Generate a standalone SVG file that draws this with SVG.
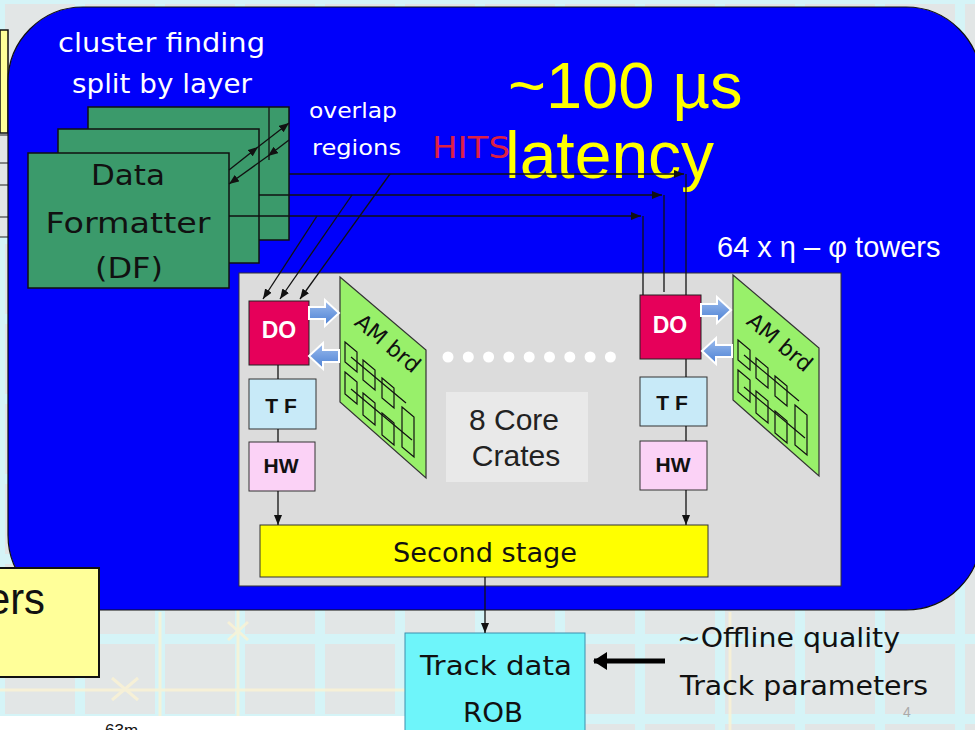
<svg xmlns="http://www.w3.org/2000/svg" xmlns:xlink="http://www.w3.org/1999/xlink" width="975" height="730" viewBox="0 0 975 730">
  <style>
    .comic { font-family: "DejaVu Sans", "Liberation Sans", sans-serif; }
    .sans { font-family: "Liberation Sans", Arial, sans-serif; }
    .card { fill: #3b9a6b; stroke: #111; stroke-width: 1.5; }
    .wire { fill: none; stroke: #111; stroke-width: 1.3; }
    .do { fill: #e6005a; stroke: #222; stroke-width: 1; }
    .tf { fill: #c8eaf8; stroke: #333; stroke-width: 1; }
    .hw { fill: #fbd2f6; stroke: #333; stroke-width: 1; }
    .lbl-do { font-family: "Liberation Sans", Arial, sans-serif; font-weight: bold; font-size: 23px; fill: #fff; text-anchor: middle; }
    .lbl-box { font-family: "Liberation Sans", Arial, sans-serif; font-weight: bold; font-size: 21px; fill: #111; text-anchor: middle; }
    .chip { fill: none; stroke: #111; stroke-width: 1.2; }
    .blk { fill: url(#arrowGrad); stroke: #fff; stroke-width: 2; }
  </style>
  <defs>
    <pattern id="tiles" x="0" y="0" width="80" height="80" patternUnits="userSpaceOnUse">
      <rect width="80" height="80" fill="#d5f4f7"/>
      <rect x="5" y="4" width="70" height="70" fill="#e2e6e6"/>
    </pattern>
    <linearGradient id="arrowGrad" x1="0" y1="0" x2="0" y2="1">
      <stop offset="0" stop-color="#9dbdee"/>
      <stop offset="1" stop-color="#4a7fd3"/>
    </linearGradient>
    <marker id="ah" viewBox="0 0 10 8" refX="10" refY="4" markerWidth="10" markerHeight="8" markerUnits="userSpaceOnUse" orient="auto">
      <path d="M0,0 L10,4 L0,8 Z" fill="#111"/>
    </marker>
    <marker id="ahBig" viewBox="0 0 14 18" refX="13" refY="9" markerWidth="14" markerHeight="18" markerUnits="userSpaceOnUse" orient="auto">
      <path d="M0,0 L14,9 L0,18 Z" fill="#000"/>
    </marker>
    <!-- block arrow pointing right, origin at the tail centre -->
    <path id="blockArrow" d="M0,-6 H16 V-13 L30,0 L16,13 V6 H0 Z"/>
    <!-- associative-memory board with its chips, origin at top-left corner -->
    <g id="amBoard">
      <path d="M0,0 L86,73 L86,201 L0,125 Z" fill="#98f06a" stroke="#333" stroke-width="1.2"/>
      <path class="chip" d="M5,65 l12,10 v20 l-12,-10 z"/>
      <path class="chip" d="M23,83 l12,10 v20 l-12,-10 z"/>
      <path class="chip" d="M42,101 l12,10 v20 l-12,-10 z"/>
      <path class="chip" d="M5,95 l12,10 v22 l-12,-10 z"/>
      <path class="chip" d="M23,116 l12,10 v22 l-12,-10 z"/>
      <path class="chip" d="M42,136 l12,10 v22 l-12,-10 z"/>
      <path class="chip" d="M62,130 l12,10 v40 l-12,-10 z"/>
      <path class="chip" d="M11,80 L66,126 M11,112 L72,163"/>
    </g>
  </defs>

  <!-- backdrop -->
  <rect width="975" height="730" fill="url(#tiles)"/>
  <g stroke="#fbf3d4" stroke-width="3" opacity="0.8">
    <line x1="238" y1="610" x2="238" y2="716"/>
    <line x1="160" y1="612" x2="160" y2="716"/>
    <line x1="0" y1="690" x2="405" y2="690"/>
    <line x1="730" y1="612" x2="730" y2="730"/>
    <line x1="228" y1="622" x2="248" y2="640"/>
    <line x1="248" y1="622" x2="228" y2="640"/>
    <line x1="112" y1="678" x2="138" y2="700"/>
    <line x1="138" y1="678" x2="112" y2="700"/>
  </g>
  <rect x="0" y="716" width="405" height="14" fill="#fff"/>
  <text class="sans" x="105" y="736" font-size="17" fill="#111">63m</text>
  <text class="sans" x="903" y="717" font-size="14" fill="#aaa">4</text>

  <!-- edge of the neighbouring table -->
  <g id="side-table">
    <rect x="0" y="30" width="8" height="103" fill="#ffff99" stroke="#111" stroke-width="1.5"/>
    <rect x="0" y="134" width="8" height="103" fill="#e3e6e6"/>
    <g stroke="#222" stroke-width="1">
      <line x1="0" y1="135" x2="8" y2="135"/>
      <line x1="0" y1="163" x2="8" y2="163"/>
      <line x1="0" y1="185" x2="8" y2="185"/>
      <line x1="0" y1="217" x2="8" y2="217"/>
      <line x1="0" y1="237" x2="8" y2="237"/>
    </g>
  </g>

  <!-- blue system area -->
  <g id="ftk-area">
    <rect x="8" y="7" width="973" height="603" rx="75" ry="75" fill="#0000fa" stroke="#111" stroke-width="1.2"/>
    <text class="comic" x="58" y="52" font-size="27" fill="#fff" textLength="207" lengthAdjust="spacingAndGlyphs">cluster finding</text>
    <text class="comic" x="72" y="93" font-size="27" fill="#fff" textLength="180" lengthAdjust="spacingAndGlyphs">split by layer</text>
    <text class="comic" x="309" y="118" font-size="22" fill="#fff" textLength="88" lengthAdjust="spacingAndGlyphs">overlap</text>
    <text class="comic" x="312" y="155" font-size="22" fill="#fff" textLength="89" lengthAdjust="spacingAndGlyphs">regions</text>
    <text class="comic" x="432" y="158" font-size="30" fill="#dc1f45" textLength="78" lengthAdjust="spacingAndGlyphs">HITS</text>
    <text class="sans" x="508" y="108" font-size="65" fill="#ffff00">~100 µs</text>
    <text class="sans" x="505" y="178" font-size="66" fill="#ffff00">latency</text>
    <text class="sans" x="717" y="257" font-size="29" fill="#fff">64 x η – φ towers</text>
  </g>

  <!-- data formatter stack -->
  <g id="data-formatter">
    <rect class="card" x="88" y="107" width="201" height="133"/>
    <rect class="card" x="58" y="129" width="201" height="134"/>
    <rect class="card" x="28" y="153" width="201" height="135"/>
    <text class="comic" x="128" y="185" font-size="29" fill="#111" text-anchor="middle" textLength="74" lengthAdjust="spacingAndGlyphs">Data</text>
    <text class="comic" x="128" y="233" font-size="29" fill="#111" text-anchor="middle" textLength="165" lengthAdjust="spacingAndGlyphs">Formatter</text>
    <text class="comic" x="129" y="278" font-size="29" fill="#111" text-anchor="middle" textLength="68" lengthAdjust="spacingAndGlyphs">(DF)</text>
  </g>

  <!-- core crate panel -->
  <g id="core-crates">
    <rect x="239" y="273" width="602" height="313" fill="#dcdcdc" stroke="#333" stroke-width="1"/>
    <g fill="#fff">
      <circle cx="448" cy="357" r="5.5"/>
      <circle cx="468.3" cy="357" r="5.5"/>
      <circle cx="488.6" cy="357" r="5.5"/>
      <circle cx="508.9" cy="357" r="5.5"/>
      <circle cx="529.2" cy="357" r="5.5"/>
      <circle cx="549.5" cy="357" r="5.5"/>
      <circle cx="569.8" cy="357" r="5.5"/>
      <circle cx="590.1" cy="357" r="5.5"/>
      <circle cx="610.4" cy="357" r="5.5"/>
    </g>
    <rect x="446" y="392" width="142" height="90" fill="#e9e9e9"/>
    <text class="sans" x="514" y="430" font-size="30" fill="#222" text-anchor="middle">8 Core</text>
    <text class="sans" x="516" y="466" font-size="30" fill="#222" text-anchor="middle">Crates</text>
  </g>

  <!-- left crate -->
  <g id="do-left">
    <rect class="do" x="249" y="301" width="60" height="64"/>
    <text class="lbl-do" x="279" y="338">DO</text>
  </g>
  <g id="tf-left">
    <rect class="tf" x="249" y="379" width="67" height="50"/>
    <text class="lbl-box" x="281" y="413">T F</text>
  </g>
  <g id="hw-left">
    <rect class="hw" x="249" y="442" width="66" height="49"/>
    <text class="lbl-box" x="281" y="473" font-size="20">HW</text>
  </g>
  <g id="am-left">
    <use xlink:href="#amBoard" href="#amBoard" transform="translate(340,277)"/>
    <text class="comic" x="388" y="351" font-size="22" fill="#111" text-anchor="middle" transform="rotate(40 388 343)">AM brd</text>
  </g>
  <g id="bus-left">
    <use class="blk" xlink:href="#blockArrow" href="#blockArrow" transform="translate(309,313)"/>
    <use class="blk" xlink:href="#blockArrow" href="#blockArrow" transform="translate(339,356) scale(-1,1)"/>
  </g>

  <!-- right crate -->
  <g id="do-right">
    <rect class="do" x="640" y="295" width="61" height="64"/>
    <text class="lbl-do" x="670" y="333">DO</text>
  </g>
  <g id="tf-right">
    <rect class="tf" x="640" y="377" width="67" height="49"/>
    <text class="lbl-box" x="672" y="410">T F</text>
  </g>
  <g id="hw-right">
    <rect class="hw" x="640" y="441" width="67" height="49"/>
    <text class="lbl-box" x="673" y="472" font-size="20">HW</text>
  </g>
  <g id="am-right">
    <use xlink:href="#amBoard" href="#amBoard" transform="translate(733,275)"/>
    <text class="comic" x="780" y="350" font-size="22" fill="#111" text-anchor="middle" transform="rotate(40 780 342)">AM brd</text>
  </g>
  <g id="bus-right">
    <use class="blk" xlink:href="#blockArrow" href="#blockArrow" transform="translate(701,310)"/>
    <use class="blk" xlink:href="#blockArrow" href="#blockArrow" transform="translate(732,351) scale(-1,1)"/>
  </g>

  <!-- second stage and output -->
  <g id="second-stage">
    <rect x="260" y="525" width="448" height="52" fill="#ffff00" stroke="#333" stroke-width="1"/>
    <text class="comic" x="485" y="562" font-size="26" fill="#111" text-anchor="middle" textLength="184" lengthAdjust="spacingAndGlyphs">Second stage</text>
  </g>
  <g id="track-rob">
    <rect x="405" y="633" width="180" height="110" fill="#6ef5fa" stroke="#3d8fae" stroke-width="1"/>
    <text class="comic" x="496" y="675" font-size="27" fill="#111" text-anchor="middle" textLength="152" lengthAdjust="spacingAndGlyphs">Track data</text>
    <text class="comic" x="493" y="722" font-size="27" fill="#111" text-anchor="middle" textLength="60" lengthAdjust="spacingAndGlyphs">ROB</text>
  </g>
  <g id="track-params">
    <text class="comic" x="677" y="647" font-size="26" fill="#111" textLength="223" lengthAdjust="spacingAndGlyphs">~Offline quality</text>
    <text class="comic" x="680" y="695" font-size="26" fill="#111" textLength="248" lengthAdjust="spacingAndGlyphs">Track parameters</text>
  </g>

  <!-- side box partly off the left edge -->
  <g id="side-box">
    <rect x="-2" y="568" width="101" height="109" fill="#ffff99" stroke="#111" stroke-width="2"/>
    <text class="sans" x="45" y="614" font-size="44" fill="#111" text-anchor="end" textLength="58" lengthAdjust="spacingAndGlyphs">ers</text>
  </g>

  <!-- connectors -->
  <g id="connectors" class="wire">
    <!-- overlap links between formatter boards -->
    <line x1="229" y1="170" x2="258" y2="147" marker-end="url(#ah)"/>
    <line x1="258" y1="147" x2="289" y2="123" marker-end="url(#ah)"/>
    <line x1="289" y1="140" x2="268" y2="156" marker-end="url(#ah)"/>
    <line x1="268" y1="156" x2="229" y2="184" marker-end="url(#ah)"/>
    <line x1="269" y1="107" x2="269" y2="160"/>
    <!-- hit buses to the far crate -->
    <line x1="289" y1="174" x2="684" y2="174" marker-end="url(#ah)"/>
    <line x1="259" y1="195" x2="662" y2="195" marker-end="url(#ah)"/>
    <line x1="229" y1="216" x2="641" y2="216" marker-end="url(#ah)"/>
    <line x1="686" y1="174" x2="686" y2="295"/>
    <line x1="664" y1="195" x2="664" y2="292"/>
    <line x1="643" y1="216" x2="643" y2="295"/>
    <!-- taps to the near crate -->
    <line x1="390" y1="174" x2="300" y2="299" marker-end="url(#ah)"/>
    <line x1="352" y1="195" x2="280" y2="299" marker-end="url(#ah)"/>
    <line x1="317" y1="216" x2="263" y2="299" marker-end="url(#ah)"/>
    <!-- crate internal chains -->
    <line x1="278" y1="365" x2="278" y2="379"/>
    <line x1="278" y1="429" x2="278" y2="442"/>
    <line x1="278" y1="491" x2="278" y2="525" marker-end="url(#ah)"/>
    <line x1="686" y1="359" x2="686" y2="377"/>
    <line x1="686" y1="426" x2="686" y2="441"/>
    <line x1="686" y1="490" x2="686" y2="525" marker-end="url(#ah)"/>
    <!-- output -->
    <line x1="485" y1="577" x2="485" y2="633" marker-end="url(#ah)"/>
    <line x1="665" y1="661" x2="594" y2="661" stroke="#000" stroke-width="5" marker-end="url(#ahBig)"/>
  </g>
</svg>
